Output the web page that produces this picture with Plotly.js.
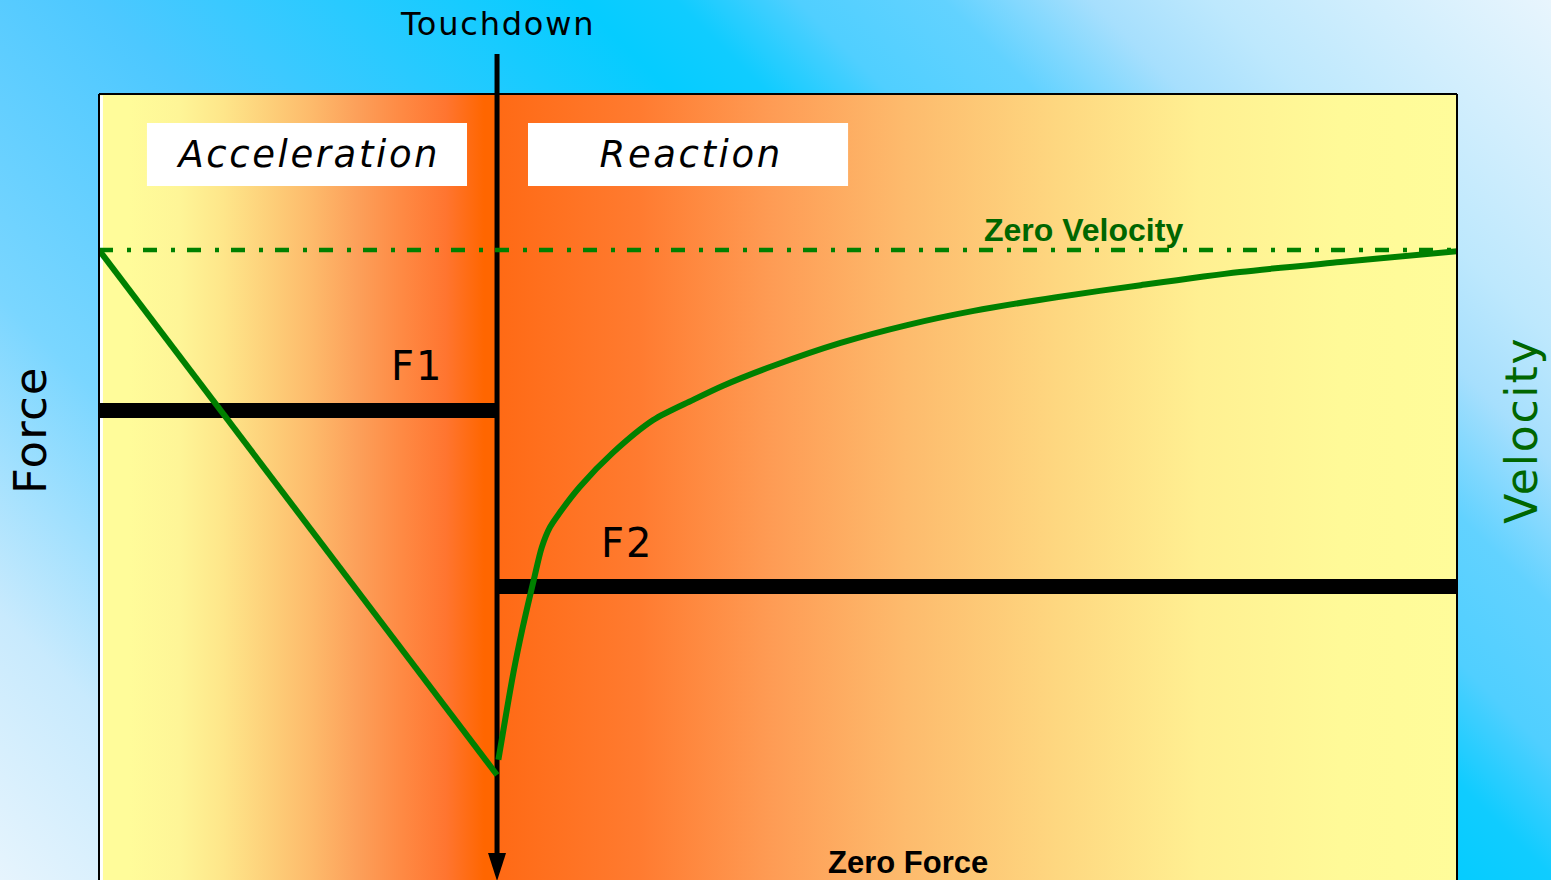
<!DOCTYPE html>
<html>
<head>
<meta charset="utf-8">
<script src="https://cdn.plot.ly/plotly-3.0.1.min.js"></script>
<style>
html, body { margin:0; padding:0; width:1551px; height:880px; overflow:hidden; }
body {
  background: linear-gradient(45deg, #e6f4fd 0%, #c8eafd 11%, #7ad6ff 24%, #4dc8ff 40%, #05ccff 60%, #10ccff 64%, #50cfff 69%, #62d2ff 75%, #a6dffd 81%, #bde8fd 86%, #e8f5fd 100%);
}
#plotbg {
  position:absolute; left:99px; top:94px; width:1358px; height:786px;
  background: linear-gradient(to right,
    #fffc9a 0px, #fffc9a 30px, #fef597 80px, #fee68a 124px, #fdd07a 169px, #fdba6b 213px,
    #fca05a 258px, #fe8a44 302px, #ff7530 347px, #ff6600 385px, #ff6600 397px,
    #ff6a15 398px, #ff7b30 541px, #fe9c55 674px, #fdbb6d 808px, #fed780 958px,
    #fff092 1101px, #fffa98 1241px, #fffc9a 1358px);
}
#chart { position:absolute; left:0; top:0; width:1551px; height:880px; }
g.annotation[data-index="0"] text { letter-spacing:1.8px; }
g.annotation[data-index="1"] text { letter-spacing:2.6px; }
g.annotation[data-index="2"] text { letter-spacing:2.6px; }
g.annotation[data-index="3"] text { letter-spacing:2px; }
g.annotation[data-index="4"] text { letter-spacing:2px; }
g.annotation[data-index="5"] text { letter-spacing:1.2px; }
g.annotation[data-index="6"] text { letter-spacing:1.8px; }
</style>
</head>
<body>
<div id="plotbg"></div>
<div id="chart"></div>
<script>
// ---- data (time: units relative to touchdown; force & velocity in arbitrary units) ----
const touchdownTime = 0;
const timeAccel = [-2.931, 0];
const velAccel  = [0, -10];
const timeReact = [0.01, 0.12, 0.19, 0.27, 0.33, 0.39, 0.46, 0.61, 0.85, 1.15, 1.44, 1.66, 2.03, 2.53, 3.02, 3.51, 4.12, 4.74, 5.47, 6.21, 7.08];
const velReact  = [-9.71, -8.06, -7.18, -6.29, -5.66, -5.28, -5.01, -4.51, -3.87, -3.24, -2.86, -2.59, -2.21, -1.77, -1.43, -1.16, -0.90, -0.67, -0.42, -0.23, -0.02];
const forceTime1 = [-2.931, 0];
const force1     = [6, 6];
const forceTime2 = [0, 7.09];
const force2     = [3.75, 3.75];
const zeroVelTime = [-2.931, 7.069];
const zeroVel     = [0, 0];
const phaseLabels = ['Acceleration', 'Reaction'];
const forceLabels = ['F1', 'F2'];
const axisLabels  = ['Force', 'Velocity'];
const refLabels   = ['Touchdown', 'Zero Velocity', 'Zero Force'];

const GREEN = '#008000';
const DARKGREEN = '#006600';
const FONT = 'DejaVu Sans, Verdana, sans-serif';
const BOLD = 'Liberation Sans, Arial, sans-serif';

const traces = [
  {x: forceTime1, y: force1, mode:'lines', line:{color:'#000', width:15}, yaxis:'y', hoverinfo:'skip'},
  {x: forceTime2, y: force2, mode:'lines', line:{color:'#000', width:15}, yaxis:'y', hoverinfo:'skip'},
  {x: zeroVelTime, y: zeroVel, mode:'lines', line:{color:GREEN, width:4.5, dash:'14px,14px,4px,12px'}, yaxis:'y2', hoverinfo:'skip'},
  {x: timeAccel, y: velAccel, mode:'lines', line:{color:GREEN, width:6}, yaxis:'y2', hoverinfo:'skip'},
  {x: timeReact, y: velReact, mode:'lines', line:{color:GREEN, width:6, shape:'spline', smoothing:0.8}, yaxis:'y2', hoverinfo:'skip'}
];

const layout = {
  width:1551, height:880,
  margin:{l:99, r:94, t:94, b:0, pad:0},
  paper_bgcolor:'rgba(0,0,0,0)',
  plot_bgcolor:'rgba(0,0,0,0)',
  showlegend:false,
  xaxis:{range:[-2.931, 7.069], visible:false, fixedrange:true},
  yaxis:{range:[0, 10.045], visible:false, fixedrange:true},
  yaxis2:{range:[-12, 2.971], overlaying:'y', side:'right', visible:false, fixedrange:true},
  shapes:[
    {type:'rect', xref:'paper', yref:'paper', x0:0.0353, x1:0.2710, y0:0.8830, y1:0.9631, fillcolor:'#ffffff', line:{width:0}, layer:'below'},
    {type:'rect', xref:'paper', yref:'paper', x0:0.3159, x1:0.5516, y0:0.8830, y1:0.9631, fillcolor:'#ffffff', line:{width:0}, layer:'below'},
    {type:'line', xref:'x', yref:'paper', x0:touchdownTime, x1:touchdownTime, y0:0.03, y1:1.0509, line:{color:'#000', width:5}, layer:'below'},
    {type:'path', xref:'x', yref:'paper', xsizemode:'pixel', ysizemode:'pixel', xanchor:touchdownTime, yanchor:0,
      path:'M-9,27 L9,27 L0,-1 Z', fillcolor:'#000', line:{width:0}, layer:'below'},
    {type:'line', xref:'paper', yref:'paper', x0:0.0018, x1:0.0018, y0:0, y1:0.998, line:{color:'#ffffff', width:3}, layer:'below'},
    {type:'line', xref:'paper', yref:'paper', x0:0, x1:0, y0:0, y1:1, line:{color:'#000', width:2}},
    {type:'line', xref:'paper', yref:'paper', x0:0, x1:1, y0:1, y1:1, line:{color:'#000', width:2}},
    {type:'line', xref:'paper', yref:'paper', x0:1, x1:1, y0:0, y1:1, line:{color:'#000', width:2}}
  ],
  annotations:[
    {text:refLabels[0], xref:'paper', yref:'paper', x:0.2938, y:1.0885, showarrow:false, xanchor:'center', yanchor:'middle',
      font:{family:FONT, size:32, color:'#000'}},
    {text:phaseLabels[0], xref:'paper', yref:'paper', x:0.1546, y:0.9230, showarrow:false, xanchor:'center', yanchor:'middle',
      font:{family:FONT, size:37, color:'#000', style:'italic'}},
    {text:phaseLabels[1], xref:'paper', yref:'paper', x:0.4359, y:0.9230, showarrow:false, xanchor:'center', yanchor:'middle',
      font:{family:FONT, size:37, color:'#000', style:'italic'}},
    {text:forceLabels[0], xref:'paper', yref:'paper', x:0.2342, y:0.6540, showarrow:false, xanchor:'center', yanchor:'middle',
      font:{family:FONT, size:40, color:'#000'}},
    {text:forceLabels[1], xref:'paper', yref:'paper', x:0.3888, y:0.4290, showarrow:false, xanchor:'center', yanchor:'middle',
      font:{family:FONT, size:40, color:'#000'}},
    {text:axisLabels[0], xref:'paper', yref:'paper', x:-0.0508, y:0.5725, showarrow:false, xanchor:'center', yanchor:'middle', textangle:-90,
      font:{family:FONT, size:45, color:'#000'}},
    {text:axisLabels[1], xref:'paper', yref:'paper', x:1.0475, y:0.5725, showarrow:false, xanchor:'center', yanchor:'middle', textangle:-90,
      font:{family:FONT, size:44, color:DARKGREEN}},
    {text:refLabels[1], xref:'paper', yref:'paper', x:0.7246, y:0.8276, showarrow:false, xanchor:'center', yanchor:'middle',
      font:{family:BOLD, size:32, color:DARKGREEN, weight:'bold'}},
    {text:refLabels[2], xref:'paper', yref:'paper', x:0.5957, y:0.0225, showarrow:false, xanchor:'center', yanchor:'middle',
      font:{family:BOLD, size:31, color:'#000', weight:'bold'}}
  ]
};

Plotly.newPlot('chart', traces, layout, {staticPlot:true, displayModeBar:false});
</script>
</body>
</html>
